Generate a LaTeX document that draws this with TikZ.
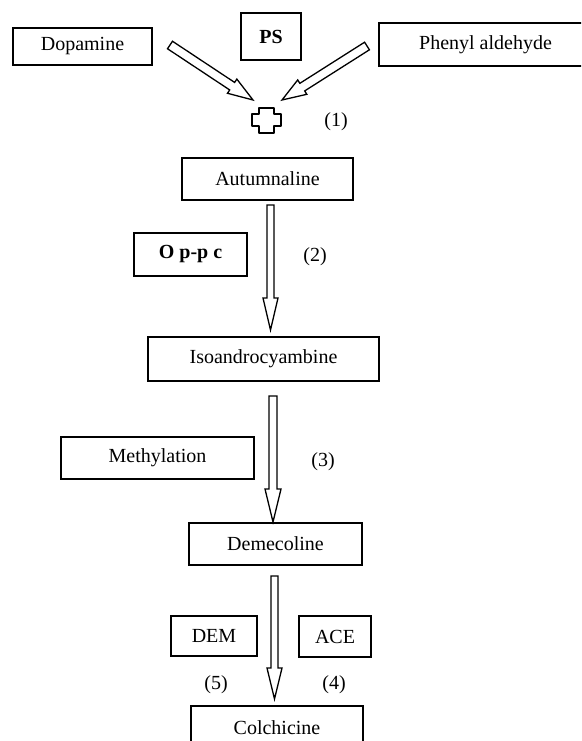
\documentclass[tikz,border=0pt]{standalone}
\usepackage{fontspec}
\setmainfont{Liberation Serif}
\usetikzlibrary{calc}
\tikzset{
  txt/.style={font=\fontsize{20}{24}\selectfont},
  box/.style={draw, line width=1.8pt, inner sep=0pt, txt},
  lab/.style={inner sep=0pt, txt},
  arrline/.style={draw, line width=1.3pt, fill=white, line join=miter},
  crossline/.style={draw, line width=2pt, line join=round}
}
\newcommand\blockarr[5]{%
  \coordinate (hb) at ($(#2)!#5!(#1)$);
  \draw[arrline] ($(#1)!#3!90:(#2)$) -- ($(hb)!#3!90:(#2)$) -- ($(hb)!#4!90:(#2)$) -- (#2)
    -- ($(hb)!#4!-90:(#2)$) -- ($(hb)!#3!-90:(#2)$) -- ($(#1)!#3!-90:(#2)$) -- cycle;}
\begin{document}
\begin{tikzpicture}[x=1pt,y=-1pt]
\useasboundingbox (0,0) rectangle (581,741);
\clip (0,0) rectangle (581,741);
% nodes
\node[box, minimum width=139, minimum height=37] (dop) at (82.5,46.5) {Dopamine};
\node[box, minimum width=60, minimum height=47] (ps) at (271,36.5) {\bfseries PS};
\node[box, minimum width=213, minimum height=43] (phe) at (485.5,44.5) {Phenyl aldehyde};
\coordinate (plus) at (266.5,120.5);
\draw[crossline] (plus) ++(-7.5,-12.5) -- ++(15,0) -- ++(0,6.5) -- ++(7,0) -- ++(0,12) -- ++(-7,0)
  -- ++(0,6.5) -- ++(-15,0) -- ++(0,-6.5) -- ++(-7,0) -- ++(0,-12) -- ++(7,0) -- cycle;
\node[lab] (l1) at (336,122) {(1)};
\node[box, minimum width=171, minimum height=42] (aut) at (267.5,179) {Autumnaline};
\node[box, minimum width=113, minimum height=43] (opc) at (190.5,254.5) {\bfseries O p-p c};
\node[lab] (l2) at (315,257) {(2)};
\node[box, minimum width=231, minimum height=44] (iso) at (263.5,359) {Isoandrocyambine};
\node[box, minimum width=193, minimum height=42] (met) at (157.5,458) {Methylation};
\node[lab] (l3) at (323,462) {(3)};
\node[box, minimum width=173, minimum height=42] (dem) at (275.5,544) {Demecoline};
\node[box, minimum width=86, minimum height=40] (demb) at (214,636) {DEM};
\node[box, minimum width=72, minimum height=41] (ace) at (335,636.5) {ACE};
\node[lab] (l5) at (216,685) {(5)};
\node[lab] (l4) at (334,685) {(4)};
\node[box, minimum width=172, minimum height=44] (col) at (277,728) {Colchicine};
% connector end points
\coordinate (a1s) at (170,45);   \coordinate (a1e) at (253,100);
\coordinate (b1s) at (367,46);   \coordinate (b1e) at (282,100);
\coordinate (a2s) at (270.5,205); \coordinate (a2e) at (270.5,330);
\coordinate (a3s) at (273,396);  \coordinate (a3e) at (273,522);
\coordinate (a4s) at (274.5,576); \coordinate (a4e) at (274.5,699);
% hollow arrows
\blockarr{a1s}{a1e}{4.5pt}{8.5pt}{25pt}
\blockarr{b1s}{b1e}{4.5pt}{8.5pt}{24pt}
\blockarr{a2s}{a2e}{3.5pt}{7.5pt}{32pt}
\blockarr{a3s}{a3e}{4pt}{8pt}{33pt}
\blockarr{a4s}{a4e}{3.5pt}{7.5pt}{31pt}
\end{tikzpicture}
\end{document}
